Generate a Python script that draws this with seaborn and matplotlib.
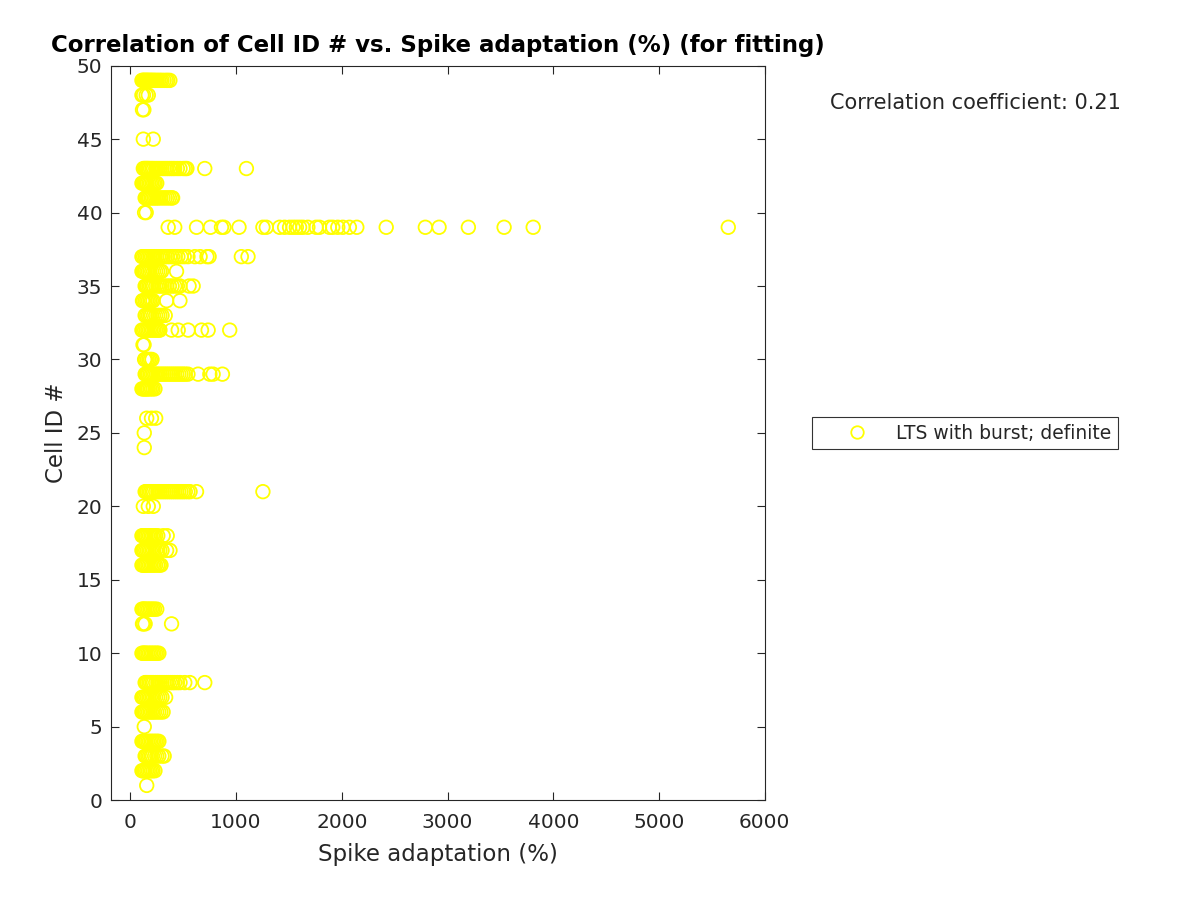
import pandas as pd
import matplotlib
matplotlib.use('Agg')
import matplotlib.pyplot as plt
import seaborn as sns
from matplotlib.lines import Line2D

# Spike adaptation (%) values for each cell ID
cell_49 = [110, 118, 125, 133, 140, 150, 158, 165, 175, 185, 195, 205, 215, 228, 240, 255, 270, 285, 300, 320, 340, 355, 374]
cell_48 = [110, 125, 150, 170]
cell_47 = [115, 128]
cell_45 = [123, 217]
cell_43 = [123, 135, 145, 155, 165, 175, 190, 205, 220, 240, 260, 280, 300, 320, 340, 360, 380, 400, 420, 445, 470, 500, 520, 535, 704, 1098]
cell_42 = [110, 120, 130, 140, 150, 160, 175, 190, 205, 220, 235, 250]
cell_41 = [140, 150, 160, 170, 180, 195, 210, 225, 240, 255, 270, 290, 310, 330, 350, 370, 390, 400]
cell_40 = [135, 150]
cell_39 = [358, 420, 626, 758, 862, 885, 1028, 1254, 1286, 1412, 1459, 1506, 1539, 1570, 1601, 1632, 1679,
           1758, 1789, 1883, 1914, 1962, 2009, 2072, 2142, 2420, 2790, 2920, 3197, 3535, 3810, 5655]
cell_37 = [110, 125, 140, 155, 170, 185, 200, 215, 230, 250, 270, 290, 310, 330, 350, 375, 400, 425, 450, 480,
           510, 545, 610, 660, 725, 745, 1050, 1113]
cell_36 = [110, 120, 130, 140, 155, 170, 185, 202, 220, 240, 260, 280, 296, 437]
cell_35 = [140, 150, 160, 175, 190, 205, 220, 240, 260, 280, 300, 320, 345, 370, 395, 420, 445, 470, 556, 594]
cell_34 = [115, 125, 140, 155, 170, 185, 200, 215, 343, 469]
cell_33 = [140, 155, 170, 185, 200, 220, 240, 260, 280, 300, 330]
cell_32 = [110, 120, 135, 150, 165, 180, 195, 210, 225, 240, 255, 270, 280, 390, 453, 547, 673, 736, 940]
cell_31 = [120, 130]
cell_30 = [135, 145, 160, 175, 190, 205]
cell_29 = [140, 150, 160, 170, 185, 200, 215, 230, 245, 260, 280, 300, 320, 340, 360, 380, 400, 420, 440,
           460, 480, 500, 520, 545, 641, 752, 783, 871]
cell_28 = [110, 120, 130, 140, 150, 160, 170, 185, 200, 215, 233]
cell_26 = [155, 200, 240]
cell_25 = [132]
cell_24 = [132]
cell_21 = [140, 150, 160, 175, 190, 205, 220, 240, 260, 280, 300, 320, 340, 360, 380, 400, 420, 440, 460,
           480, 500, 520, 545, 565, 626, 1254]
cell_20 = [123, 170, 217]
cell_18 = [110, 120, 130, 140, 150, 165, 180, 195, 210, 225, 240, 260, 311, 349]
cell_17 = [110, 120, 130, 145, 160, 175, 190, 205, 220, 240, 260, 280, 300, 343, 375]
cell_16 = [110, 120, 130, 140, 150, 165, 180, 195, 210, 225, 240, 260, 275, 290]
cell_13 = [110, 120, 130, 140, 155, 170, 185, 200, 215, 230, 250]
cell_12 = [115, 125, 140, 390]
cell_10 = [110, 120, 130, 140, 150, 165, 180, 195, 210, 225, 240, 255, 270]
cell_8 = [140, 150, 160, 175, 190, 205, 220, 240, 260, 280, 300, 320, 340, 360, 380, 400, 420, 445, 470,
          515, 563, 704]
cell_7 = [110, 120, 130, 145, 160, 175, 190, 205, 220, 240, 260, 280, 300, 334]
cell_6 = [110, 120, 130, 140, 155, 170, 185, 200, 215, 230, 250, 270, 290, 310]
cell_5 = [132]
cell_4 = [110, 120, 130, 140, 150, 165, 180, 195, 210, 225, 240, 255, 270]
cell_3 = [140, 150, 165, 180, 195, 210, 230, 250, 270, 300, 320]
cell_2 = [110, 120, 130, 140, 155, 170, 185, 200, 215, 233]
cell_1 = [155]

cells = {49: cell_49, 48: cell_48, 47: cell_47, 45: cell_45, 43: cell_43, 42: cell_42, 41: cell_41,
         40: cell_40, 39: cell_39, 37: cell_37, 36: cell_36, 35: cell_35, 34: cell_34, 33: cell_33,
         32: cell_32, 31: cell_31, 30: cell_30, 29: cell_29, 28: cell_28, 26: cell_26, 25: cell_25,
         24: cell_24, 21: cell_21, 20: cell_20, 18: cell_18, 17: cell_17, 16: cell_16, 13: cell_13,
         12: cell_12, 10: cell_10, 8: cell_8, 7: cell_7, 6: cell_6, 5: cell_5, 4: cell_4, 3: cell_3,
         2: cell_2, 1: cell_1}

rows = []
for cid, vals in cells.items():
    for v in vals:
        rows.append({'adaptation': v, 'cell_id': cid})
df = pd.DataFrame(rows)

sns.set_style('white')
plt.rcParams['font.family'] = ['DejaVu Sans']
plt.rcParams['xtick.direction'] = 'in'
plt.rcParams['ytick.direction'] = 'in'
plt.rcParams['xtick.top'] = True
plt.rcParams['ytick.right'] = True
plt.rcParams['xtick.bottom'] = True
plt.rcParams['ytick.left'] = True
axis_col = '#262626'

fig = plt.figure(figsize=(12, 9), dpi=100)
ax = fig.add_axes([0.0923, 0.111, 0.545, 0.816])

sns.scatterplot(data=df, x='adaptation', y='cell_id', ax=ax, marker='o', s=95,
                facecolors='none', edgecolor='#ffff00', linewidth=1.3)

ax.set_xlim(-185, 6000)
ax.set_ylim(0, 50)
ax.set_xticks([0, 1000, 2000, 3000, 4000, 5000, 6000])
ax.set_yticks(range(0, 51, 5))
ax.tick_params(direction='in', length=6, width=0.8, colors=axis_col, labelsize=14.5,
               top=True, right=True, bottom=True, left=True)
ax.tick_params(axis='x', pad=9)
ax.tick_params(axis='y', pad=6)
for sp in ax.spines.values():
    sp.set_color(axis_col)
    sp.set_linewidth(0.8)

ax.set_xlabel('Spike adaptation (%)', fontsize=16.5, color=axis_col, labelpad=8)
ax.set_ylabel('Cell ID #', fontsize=16.5, color=axis_col, labelpad=6)
ax.set_title('Correlation of Cell ID # vs. Spike adaptation (%) (for fitting)',
             fontsize=16.5, fontweight='bold', color='black', pad=10)

fig.text(0.934, 0.886, 'Correlation coefficient: 0.21', ha='right', va='center', fontsize=15)

handle = Line2D([], [], marker='o', linestyle='none', markerfacecolor='none',
                markeredgecolor='#ffff00', markeredgewidth=1.3, markersize=9)
leg = fig.legend([handle], ['LTS with burst; definite'], loc='center left',
                 bbox_to_anchor=(0.677, 0.5185), borderaxespad=0, fancybox=False,
                 edgecolor='black', fontsize=13.5, handlelength=4.1, borderpad=0.35,
                 handletextpad=0.0)
leg.get_frame().set_linewidth(0.8)

fig.savefig('out.png', dpi=100)
